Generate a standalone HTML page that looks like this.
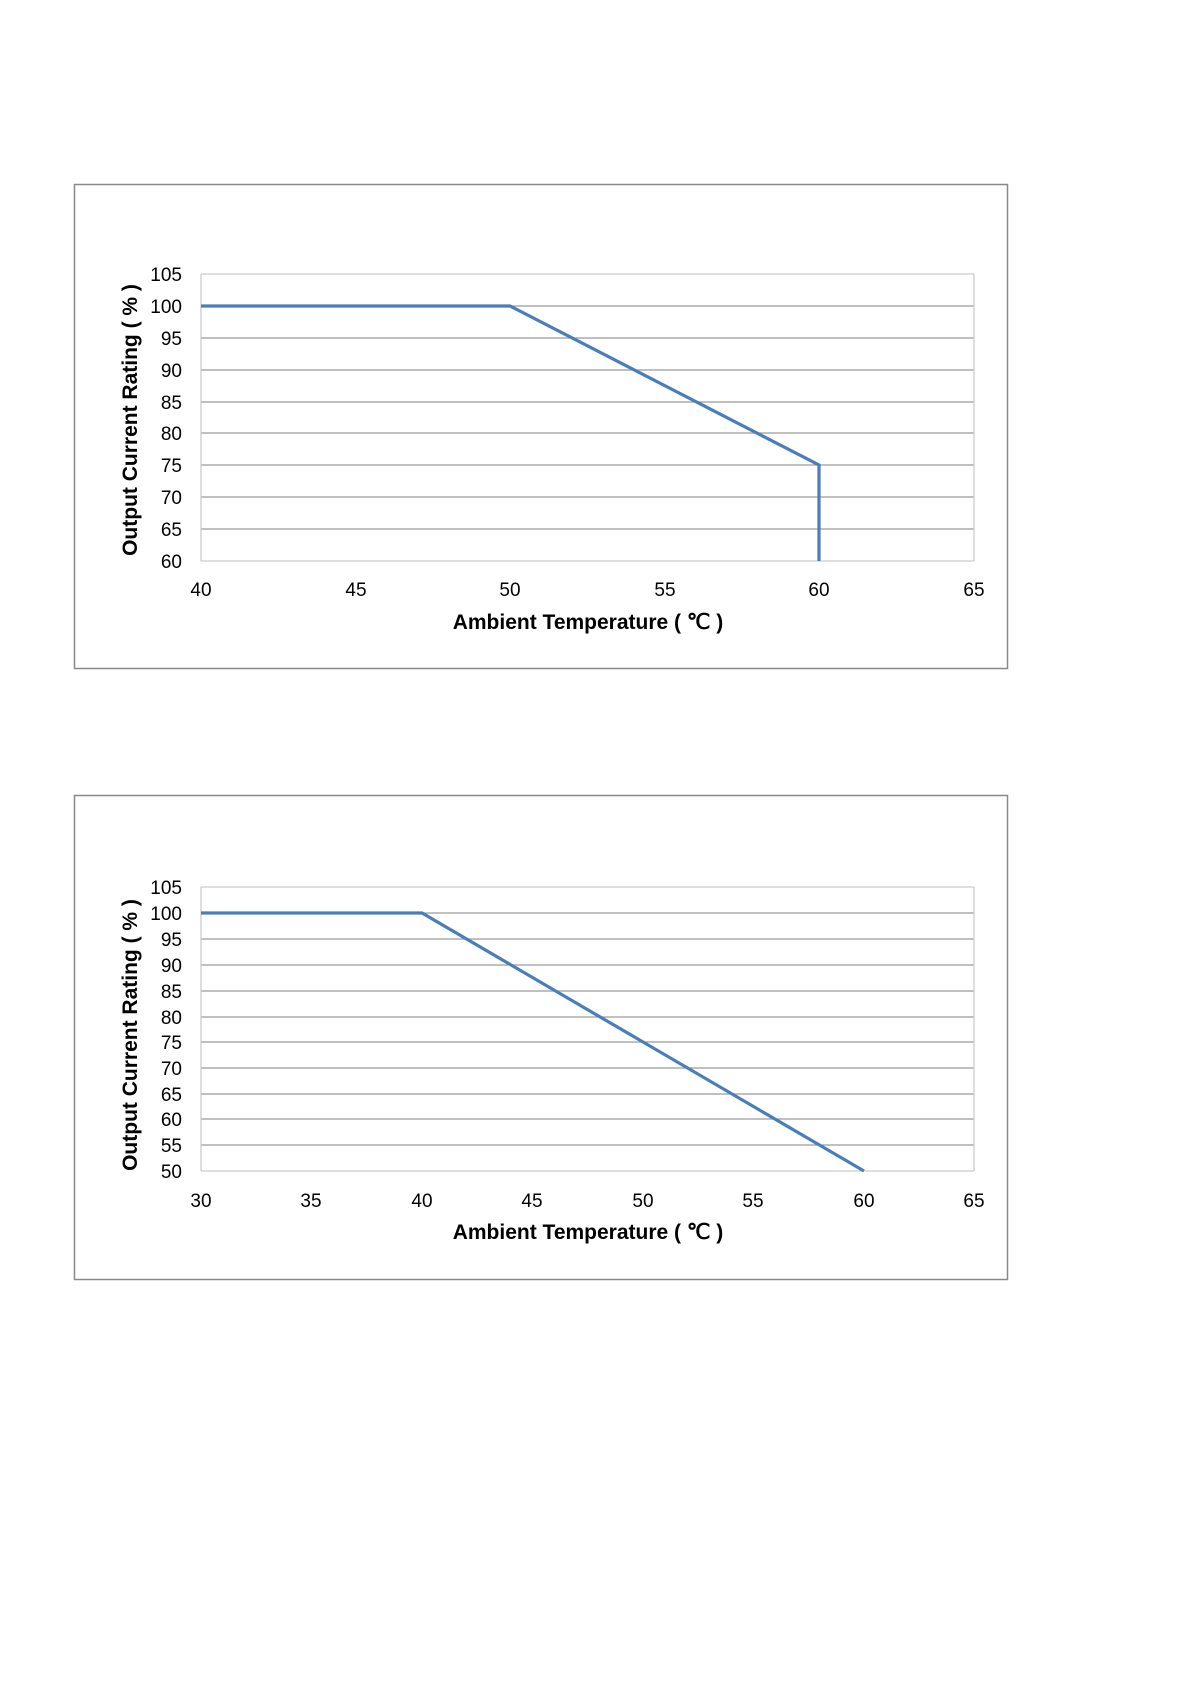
<!DOCTYPE html>
<html><head><meta charset="utf-8"><style>
html,body{margin:0;padding:0;background:#fff;}
svg{display:block;}
text{font-family:"Liberation Sans",sans-serif;fill:#000;}
</style></head><body>
<svg width="1190" height="1684" viewBox="0 0 1190 1684" xmlns="http://www.w3.org/2000/svg">
<rect x="74.5" y="184.5" width="933" height="484" fill="#fff" stroke="#888" stroke-width="1.5"/>
<g stroke="#9a9a9a" stroke-width="1.3">
<line x1="201" y1="274" x2="974" y2="274" stroke="#ccc"/>
<line x1="201" y1="306" x2="974" y2="306"/>
<line x1="201" y1="338" x2="974" y2="338"/>
<line x1="201" y1="370" x2="974" y2="370"/>
<line x1="201" y1="402" x2="974" y2="402"/>
<line x1="201" y1="433" x2="974" y2="433"/>
<line x1="201" y1="465" x2="974" y2="465"/>
<line x1="201" y1="497" x2="974" y2="497"/>
<line x1="201" y1="529" x2="974" y2="529"/>
<line x1="201" y1="561" x2="974" y2="561" stroke="#ccc"/>
<line x1="201" y1="274" x2="201" y2="561" stroke="#ccc"/>
<line x1="974" y1="274" x2="974" y2="561" stroke="#ccc"/>
</g>
<polyline points="201,306 510,306 819,465 819,561" fill="none" stroke="#4a7ebb" stroke-width="3.2"/>
<g font-size="19" text-anchor="end">
<text x="182" y="281">105</text><text x="182" y="313">100</text><text x="182" y="345">95</text>
<text x="182" y="377">90</text><text x="182" y="409">85</text><text x="182" y="440">80</text>
<text x="182" y="472">75</text><text x="182" y="504">70</text><text x="182" y="536">65</text>
<text x="182" y="568">60</text>
</g>
<g font-size="19" text-anchor="middle">
<text x="201" y="596">40</text><text x="356" y="596">45</text><text x="510" y="596">50</text>
<text x="665" y="596">55</text><text x="819" y="596">60</text><text x="974" y="596">65</text>
</g>
<text x="588" y="629" font-size="21" font-weight="bold" text-anchor="middle">Ambient Temperature ( ℃ )</text>
<text transform="translate(137,420) rotate(-90)" font-size="21" font-weight="bold" text-anchor="middle">Output Current Rating ( % )</text>

<g transform="translate(0,-7)">
<rect x="74.5" y="802.5" width="933" height="484" fill="#fff" stroke="#888" stroke-width="1.5"/>
<g stroke="#9a9a9a" stroke-width="1.3">
<line x1="201" y1="894" x2="974" y2="894" stroke="#ccc"/>
<line x1="201" y1="920" x2="974" y2="920"/>
<line x1="201" y1="946" x2="974" y2="946"/>
<line x1="201" y1="972" x2="974" y2="972"/>
<line x1="201" y1="998" x2="974" y2="998"/>
<line x1="201" y1="1024" x2="974" y2="1024"/>
<line x1="201" y1="1049" x2="974" y2="1049"/>
<line x1="201" y1="1075" x2="974" y2="1075"/>
<line x1="201" y1="1101" x2="974" y2="1101"/>
<line x1="201" y1="1126" x2="974" y2="1126"/>
<line x1="201" y1="1152" x2="974" y2="1152"/>
<line x1="201" y1="1178" x2="974" y2="1178" stroke="#ccc"/>
<line x1="201" y1="894" x2="201" y2="1178" stroke="#ccc"/>
<line x1="974" y1="894" x2="974" y2="1178" stroke="#ccc"/>
</g>
<polyline points="201,920 422,920 864,1178" fill="none" stroke="#4a7ebb" stroke-width="3.2"/>
<g font-size="19" text-anchor="end">
<text x="182" y="901">105</text><text x="182" y="927">100</text><text x="182" y="953">95</text>
<text x="182" y="979">90</text><text x="182" y="1005">85</text><text x="182" y="1031">80</text>
<text x="182" y="1056">75</text><text x="182" y="1082">70</text><text x="182" y="1108">65</text>
<text x="182" y="1133">60</text><text x="182" y="1159">55</text><text x="182" y="1185">50</text>
</g>
<g font-size="19" text-anchor="middle">
<text x="201" y="1214">30</text><text x="311" y="1214">35</text><text x="422" y="1214">40</text>
<text x="532" y="1214">45</text><text x="643" y="1214">50</text><text x="753" y="1214">55</text>
<text x="864" y="1214">60</text><text x="974" y="1214">65</text>
</g>
<text x="588" y="1246" font-size="21" font-weight="bold" text-anchor="middle">Ambient Temperature ( ℃ )</text>
<text transform="translate(137,1042) rotate(-90)" font-size="21" font-weight="bold" text-anchor="middle">Output Current Rating ( % )</text>
</g>
</svg>
</body></html>
